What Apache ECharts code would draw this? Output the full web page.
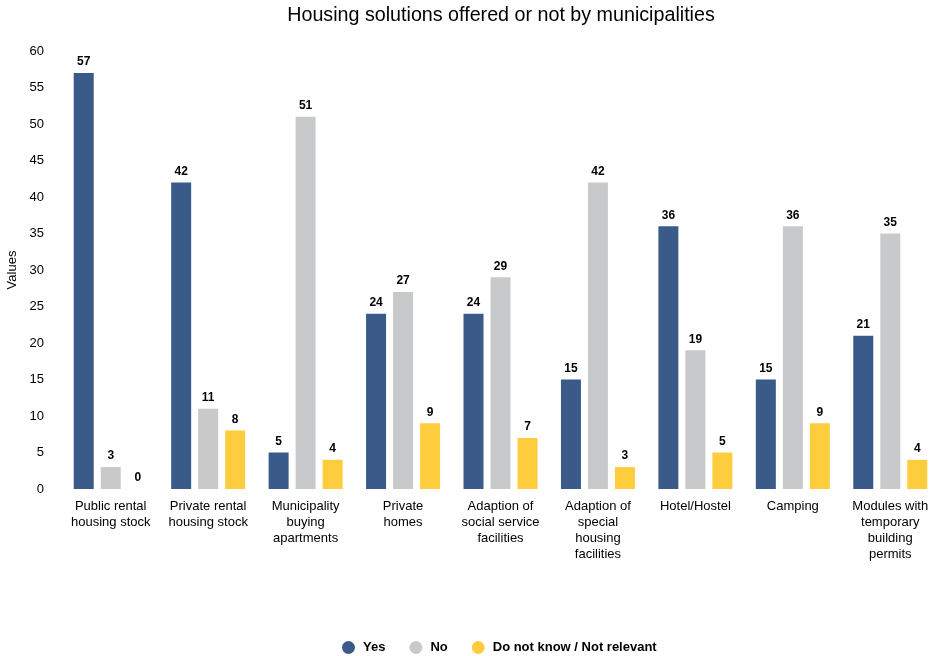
<!DOCTYPE html>
<html>
<head>
<meta charset="utf-8">
<script src="https://cdn.jsdelivr.net/npm/echarts@6/dist/echarts.min.js"></script>
<style>
  html, body { margin: 0; padding: 0; background: #ffffff; }
  #chart { width: 931px; height: 656px; }
</style>
</head>
<body>
<div id="chart"></div>
<script>
// Housing solutions, grouped by category
var categories = [
  'Public rental\nhousing stock',
  'Private rental\nhousing stock',
  'Municipality\nbuying\napartments',
  'Private\nhomes',
  'Adaption of\nsocial service\nfacilities',
  'Adaption of\nspecial\nhousing\nfacilities',
  'Hotel/Hostel',
  'Camping',
  'Modules with\ntemporary\nbuilding\npermits'
];
var yesValues = [57, 42, 5, 24, 24, 15, 36, 15, 21];
var noValues = [3, 11, 51, 27, 29, 42, 19, 36, 35];
var unknownValues = [0, 8, 4, 9, 7, 3, 5, 9, 4];
var seriesNames = ['Yes', 'No', 'Do not know / Not relevant'];
var yTicks = { min: 0, max: 60, interval: 5 };

var FONT = '"Liberation Sans", Arial, sans-serif';
var colors = ['#3a5a89', '#c8c9cb', '#fecd3d'];

function barSeries(name, data, color) {
  return {
    name: name,
    type: 'bar',
    data: data,
    barWidth: 20,
    barGap: '35%',
    itemStyle: { color: color },
    label: {
      show: true,
      position: 'top',
      distance: 5,
      color: '#000000',
      fontFamily: FONT,
      fontSize: 12,
      fontWeight: 'bold'
    }
  };
}

var chart = echarts.init(document.getElementById('chart'), null, { renderer: 'canvas' });
chart.setOption({
  animation: false,
  backgroundColor: '#ffffff',
  color: colors,
  title: {
    text: 'Housing solutions offered or not by municipalities',
    left: 496,
    top: 1,
    textAlign: 'center',
    textStyle: {
      fontFamily: FONT,
      fontSize: 19.7,
      fontWeight: 'normal',
      color: '#000000'
    }
  },
  legend: {
    data: seriesNames,
    left: 337,
    top: 636,
    icon: 'circle',
    itemWidth: 13,
    itemHeight: 13,
    itemGap: 24,
    textStyle: {
      fontFamily: FONT,
      fontSize: 13,
      fontWeight: 'bold',
      color: '#000000',
      padding: [0, 0, 0, 3]
    }
  },
  grid: {
    left: 62,
    right: -8,
    top: 51,
    bottom: 167,
    containLabel: false,
    outerBoundsMode: 'none'
  },
  xAxis: {
    type: 'category',
    data: categories,
    axisLine: { show: false },
    axisTick: { show: false },
    axisLabel: {
      interval: 0,
      margin: 9,
      fontFamily: FONT,
      fontSize: 13,
      lineHeight: 16,
      color: '#000000',
      align: 'center'
    }
  },
  yAxis: {
    type: 'value',
    min: yTicks.min,
    max: yTicks.max,
    interval: yTicks.interval,
    name: 'Values',
    nameLocation: 'middle',
    nameGap: 40,
    nameTextStyle: {
      fontFamily: FONT,
      fontSize: 13,
      color: '#000000'
    },
    axisLine: { show: false },
    axisTick: { show: false },
    splitLine: { show: false },
    axisLabel: {
      margin: 18,
      fontFamily: FONT,
      fontSize: 13,
      color: '#000000'
    }
  },
  series: [
    barSeries(seriesNames[0], yesValues, colors[0]),
    barSeries(seriesNames[1], noValues, colors[1]),
    barSeries(seriesNames[2], unknownValues, colors[2])
  ]
});
</script>
</body>
</html>
